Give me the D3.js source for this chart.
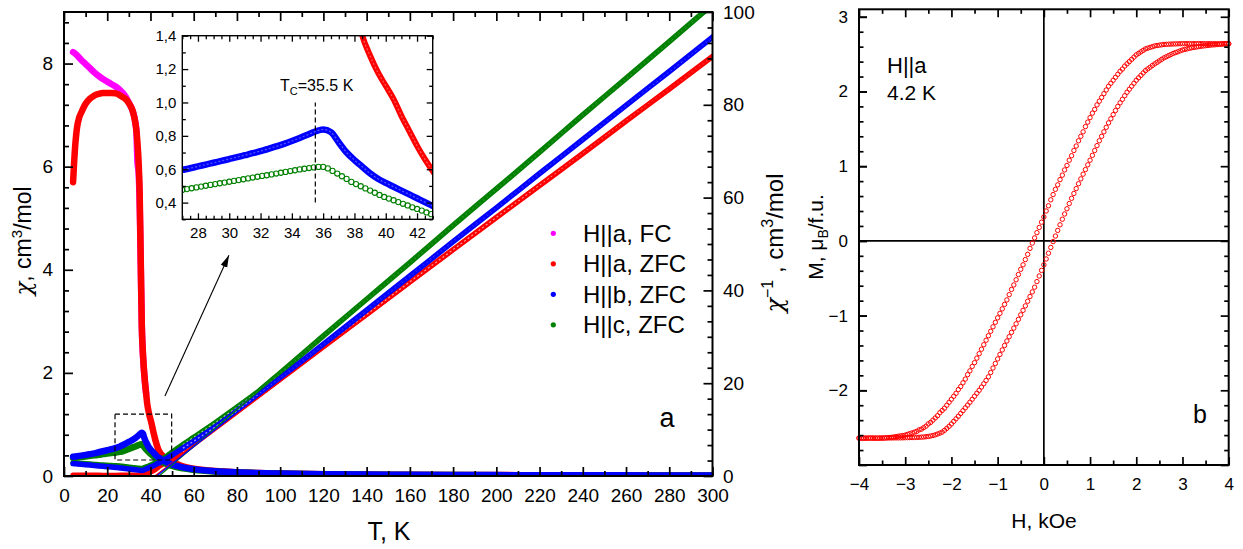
<!DOCTYPE html>
<html>
<head>
<meta charset="utf-8">
<title>Susceptibility and magnetization</title>
<script src="https://cdn.jsdelivr.net/npm/d3@7/dist/d3.min.js"></script>
<style>
  html, body { margin: 0; padding: 0; background: #fff; }
  svg { display: block; font-family: "Liberation Sans", Arial, Helvetica, sans-serif; }
</style>
</head>
<body>
<svg id="fig" width="1243" height="549"></svg>
<script>
// ---------------- panel (a): chi(T) and 1/chi(T) ----------------
// H||a, field cooled
const tempFC = [4.2,5,6,8,10,12,14,16,18,20,22,24,26,28,29,30,31,32,33,33.5,34,34.5,35,35.5,36,37,38];
const chiFC  = [8.22,8.20,8.16,8.07,7.99,7.91,7.83,7.76,7.70,7.65,7.60,7.55,7.48,7.39,7.32,7.24,7.16,7.05,6.86,6.68,6.08,5.90,5.30,4.10,2.90,2.05,1.60];

// H||a, zero-field cooled
const tempA = [4.2,5,6,7,8,10,12,14,16,18,20,22,24,26,27,28,29,30,31,32,33,33.5,34,34.5,35,35.5,36,36.5,37,37.5,38,38.5,39,39.5,40,40.5,41,41.5,42,42.5,43,44,45,46,48,50,55,60,70,80,90,100,120,140,160,180,200,220,240,260,280,300];
const chiA  = [5.70,6.30,6.75,6.95,7.05,7.22,7.32,7.38,7.41,7.43,7.43,7.43,7.42,7.38,7.35,7.33,7.29,7.23,7.16,7.05,6.85,6.70,6.45,6.10,5.50,4.20,2.90,2.40,2.05,1.80,1.60,1.40,1.28,1.18,1.10,1.02,0.92,0.83,0.74,0.66,0.59,0.48,0.42,0.38,0.32,0.28,0.1887,0.1414,0.0952,0.0714,0.0571,0.0477,0.0358,0.0287,0.0239,0.0205,0.01795,0.01597,0.01439,0.01307,0.01199,0.01106];

// H||b, zero-field cooled
const tempB = [4.2,5,6,8,10,12,14,16,18,20,22,24,26,27,27.5,28,28.5,29,29.5,30,30.5,31,31.5,32,32.5,33,33.5,34,34.5,35,35.5,36,36.5,37,37.5,38,38.5,39,39.5,40,40.5,41,41.5,42,42.5,43,44,45,46,48,50,55,60,70,80,90,100,120,140,160,180,200,220,240,260,280,300];
const chiB  = [0.375,0.378,0.383,0.395,0.41,0.425,0.44,0.46,0.48,0.50,0.52,0.545,0.575,0.596,0.606,0.617,0.628,0.639,0.650,0.661,0.672,0.684,0.696,0.709,0.722,0.737,0.752,0.769,0.787,0.806,0.826,0.838,0.822,0.760,0.700,0.655,0.615,0.575,0.543,0.518,0.495,0.472,0.449,0.426,0.403,0.380,0.357,0.323,0.299,0.256,0.222,0.1667,0.1333,0.0943,0.0714,0.0571,0.0475,0.0352,0.02797,0.0232,0.0198,0.0173,0.01534,0.01379,0.01252,0.01147,0.01057];

// H||c, zero-field cooled
const tempC = [4.2,5,6,8,10,12,14,16,18,20,22,24,26,
  27,27.3,27.6,27.9,28.2,28.5,28.8,29.1,29.4,29.7,30,30.3,30.6,30.9,31.2,31.5,31.8,32.1,32.4,32.7,
  33,33.3,33.6,33.9,34.2,34.5,34.8,35.1,35.4,35.7,36,36.3,36.6,36.9,37.2,37.5,37.8,38.1,38.4,38.7,
  39,39.3,39.6,39.9,40.2,40.5,40.8,41.1,41.4,41.7,42,42.3,42.6,42.9,43.2,
  45,46,48,50,55,60,70,80,90,100,120,140,160,180,200,220,240,260,280,300];
const chiC  = [0.35,0.355,0.36,0.37,0.38,0.39,0.40,0.41,0.425,0.435,0.445,0.455,0.468,
  0.476,0.481,0.486,0.491,0.496,0.501,0.506,0.511,0.516,0.520,0.525,0.530,0.535,0.540,0.545,0.550,0.555,0.560,0.564,0.569,
  0.574,0.579,0.584,0.589,0.594,0.599,0.603,0.607,0.611,0.614,0.614,0.605,0.590,0.574,0.558,0.542,0.524,0.511,0.498,0.485,
  0.472,0.459,0.446,0.434,0.424,0.414,0.403,0.393,0.383,0.372,0.362,0.352,0.341,0.331,0.321,
  0.278,0.2597,0.2252,0.1949,0.1479,0.1200,0.0870,0.06757,0.05479,0.04505,0.03311,0.02625,0.02174,0.01852,0.01616,0.01433,0.01285,0.01167,0.01068,0.00984];

// Curie-Weiss lines for 1/chi, given by their two end points [T, 1/chi]
const fitA = [[42.0, 0], [300, 90.4]];
const fitB = [[42.8, 0], [300, 94.6]];
const fitC = [[44.0, 0], [300, 101.6]];

const legendLabels = ["H||a, FC", "H||a, ZFC", "H||b, ZFC", "H||c, ZFC"];
const tTicks = [0,20,40,60,80,100,120,140,160,180,200,220,240,260,280,300];
const chiTicks = [0,2,4,6,8];
const invTicks = [0,20,40,60,80,100];
const insetTTicks = [28,30,32,34,36,38,40,42];
const insetChiTicks = [0.4,0.6,0.8,1.0,1.2,1.4];
const tcValue = 35.5;

// ---------------- panel (b): M(H) loop at 4.2 K ----------------
const fieldDown = d3.range(161).map(i => +(4 - 0.05 * i).toFixed(2));
const momentDown = [
  2.640,2.640,2.641,2.640,2.640,2.639,2.640,2.641,2.640,2.640,2.639,2.640,2.640,2.641,2.640,2.640,2.639,2.640,2.640,2.640,2.640,
  2.639,2.638,2.637,2.636,2.634,2.633,2.631,2.630,
  2.625,2.620,2.615,2.610,2.600,2.590,2.580,2.570,2.550,2.530,2.510,2.490,
  2.460,2.430,2.400,2.370,2.340,2.300,2.270,2.230,2.190,2.150,2.110,2.070,2.020,1.970,1.920,1.870,1.820,1.760,1.710,1.650,
  1.590,1.530,1.460,1.400,1.340,1.270,1.210,1.140,1.080,1.010,0.950,0.880,0.820,0.750,0.690,0.620,0.550,0.470,0.400,0.320,
  0.250,0.180,0.110,0.040,-0.030,-0.100,-0.180,-0.250,-0.320,-0.380,-0.450,-0.520,-0.590,-0.650,-0.720,-0.790,-0.850,-0.910,-0.970,-1.030,
  -1.090,-1.150,-1.210,-1.270,-1.330,-1.390,-1.450,-1.510,-1.570,-1.630,-1.680,-1.740,-1.790,-1.850,-1.900,-1.950,-1.990,-2.040,-2.080,-2.120,
  -2.160,-2.200,-2.240,-2.270,-2.300,-2.340,-2.370,-2.400,-2.430,-2.450,-2.480,-2.500,-2.520,-2.530,-2.550,-2.560,-2.570,-2.580,-2.590,-2.600,
  -2.605,-2.610,-2.615,-2.620,-2.625,-2.630,-2.632,-2.635,-2.638,-2.640,
  -2.640,-2.641,-2.640,-2.640,-2.639,-2.640,-2.641,-2.640,-2.640,-2.640];
const fieldUp = d3.range(161).map(i => +(-4 + 0.05 * i).toFixed(2));
const momentUp = [
  -2.640,-2.640,-2.641,-2.640,-2.640,-2.639,-2.640,-2.640,-2.640,-2.639,-2.639,-2.639,-2.638,-2.638,-2.638,-2.637,-2.637,-2.637,-2.636,-2.636,-2.635,
  -2.634,-2.633,-2.632,-2.631,-2.630,-2.629,-2.627,-2.625,
  -2.622,-2.618,-2.612,-2.605,-2.596,-2.585,-2.573,-2.560,-2.536,-2.510,-2.482,-2.450,
  -2.416,-2.382,-2.347,-2.310,-2.273,-2.235,-2.198,-2.160,-2.120,-2.080,-2.040,-2.000,-1.957,-1.913,-1.868,-1.820,-1.762,-1.702,-1.641,-1.580,
  -1.520,-1.460,-1.400,-1.340,-1.283,-1.225,-1.168,-1.110,-1.050,-0.990,-0.930,-0.870,-0.808,-0.745,-0.683,-0.620,-0.545,-0.470,-0.395,-0.320,
  -0.242,-0.165,-0.088,-0.010,0.065,0.140,0.215,0.290,0.360,0.430,0.500,0.570,0.635,0.700,0.765,0.830,0.893,0.955,1.018,1.080,
  1.145,1.210,1.275,1.340,1.400,1.460,1.520,1.580,1.635,1.690,1.745,1.800,1.848,1.895,1.943,1.990,2.030,2.070,2.110,2.150,
  2.183,2.215,2.248,2.280,2.303,2.325,2.348,2.370,2.390,2.410,2.430,2.450,2.465,2.480,2.495,2.510,2.521,2.532,2.544,2.555,
  2.563,2.570,2.578,2.585,2.590,2.595,2.600,2.605,2.609,2.613,2.616,2.620,2.623,2.625,2.628,2.630,2.633,2.635,2.638,2.640];
const hTicks = [-4,-3,-2,-1,0,1,2,3,4];
const mTicks = [-2,-1,0,1,2,3];

// ---------------- drawing ----------------
const COLORS = { fc: "#ff00ff", a: "#ff0000", b: "#0000ff", c: "#008000" };
const svg = d3.select("#fig");
svg.append("rect").attr("width", 1243).attr("height", 549).attr("fill", "#fff");

const zip = (ts, vs) => ts.map((t, i) => ({ t, v: vs[i] }));

function drawAxis(parent, orient, scale, pos, values, size, opts = {}) {
  const maker = { bottom: d3.axisBottom, top: d3.axisTop, left: d3.axisLeft, right: d3.axisRight }[orient];
  const gen = maker(scale).tickValues(values).tickSize(size)
    .tickPadding(opts.pad ?? 3).tickFormat(opts.fmt || (() => ""));
  const tr = (orient === "bottom" || orient === "top") ? `translate(0,${pos})` : `translate(${pos},0)`;
  const g = parent.append("g").attr("transform", tr).call(gen);
  g.select(".domain").remove();
  g.attr("font-family", null).attr("font-size", opts.fs || 19);
  g.selectAll(".tick line").attr("stroke", "#000").attr("stroke-width", opts.sw || 1.7);
  g.selectAll(".tick text").attr("fill", "#000");
  return g;
}

// ===== panel a =====
const A = { left: 64, right: 712.5, top: 12, bottom: 476 };
const x = d3.scaleLinear().domain([0, 300]).range([A.left, A.right]);
const yL = d3.scaleLinear().domain([0, 9]).range([A.bottom, A.top]);
const yR = d3.scaleLinear().domain([0, 100]).range([A.bottom, A.top]);

const defs = svg.append("defs");
defs.append("clipPath").attr("id", "clipA").append("rect")
  .attr("x", A.left).attr("y", A.top).attr("width", A.right - A.left).attr("height", A.bottom - A.top);

const lineChi = d3.line().x(d => x(d.t)).y(d => yL(d.v)).curve(d3.curveMonotoneX);
const lineInv = d3.line().x(d => x(d.t)).y(d => yR(1 / d.v)).curve(d3.curveMonotoneX);
const lineFit = d3.line().x(d => x(d[0])).y(d => yR(d[1]));

const plotA = svg.append("g").attr("clip-path", "url(#clipA)");
function band(path, color, w) {
  plotA.append("path").attr("d", path).attr("fill", "none").attr("stroke", color)
    .attr("stroke-width", w).attr("stroke-linecap", "round").attr("stroke-linejoin", "round");
}
// open-circle texture along the dense 1/chi bands
function speckle(path, opacity) {
  plotA.append("path").attr("d", path).attr("fill", "none").attr("stroke", "#fff")
    .attr("stroke-width", 1.3).attr("stroke-opacity", opacity).attr("stroke-dasharray", "2,2.5");
}

const sFC = zip(tempFC, chiFC), sA = zip(tempA, chiA), sB = zip(tempB, chiB), sC = zip(tempC, chiC);
const hiT = s => s.filter(d => d.t >= 55);
band(lineChi(sFC), COLORS.fc, 6.5);
band(lineChi(sA), COLORS.a, 6.5);
band(lineInv(sA), COLORS.a, 5.5);
speckle(lineInv(hiT(sA)), 0.6);
band(lineChi(sC), COLORS.c, 6.5);
band(lineInv(sC), COLORS.c, 5.5);
speckle(lineInv(hiT(sC)), 0.6);
band(lineChi(sB), COLORS.b, 6.5);
band(lineInv(sB), COLORS.b, 5.5);
speckle(lineInv(hiT(sB)), 0.6);
[[fitA, COLORS.a], [fitC, COLORS.c], [fitB, COLORS.b]].forEach(([f, c]) => {
  plotA.append("path").attr("d", lineFit(f)).attr("fill", "none").attr("stroke", c).attr("stroke-width", 1.3);
});

// frame and ticks
svg.append("rect").attr("x", A.left).attr("y", A.top).attr("width", A.right - A.left).attr("height", A.bottom - A.top)
  .attr("fill", "none").attr("stroke", "#000").attr("stroke-width", 2);
const tMinor = tTicks.slice(0, -1).map(t => t + 10);
drawAxis(svg, "bottom", x, A.bottom, tTicks, -9, { fmt: d3.format("d"), pad: 13 });
drawAxis(svg, "bottom", x, A.bottom, tMinor, -5);
drawAxis(svg, "top", x, A.top, tTicks, -9);
drawAxis(svg, "top", x, A.top, tMinor, -5);
const chiMinor = d3.range(1, 23).filter(k => k % 5 !== 0).map(k => +(k * 0.4).toFixed(1));
drawAxis(svg, "left", yL, A.left, chiTicks, -9, { fmt: d3.format("d"), pad: 11 });
drawAxis(svg, "left", yL, A.left, chiMinor, -5);
const invMinor = d3.range(1, 30).filter(k => k % 6 !== 0).map(k => k * 20 / 6);
drawAxis(svg, "right", yR, A.right, invTicks, -9, { fmt: d3.format("d"), pad: 10.5 });
drawAxis(svg, "right", yR, A.right, invMinor, -5);

// axis titles
svg.append("text").attr("x", 389).attr("y", 540).attr("text-anchor", "middle")
  .attr("font-size", 25).text("T, K");
const ylab = svg.append("text").attr("transform", "translate(31,241) rotate(-90)")
  .attr("text-anchor", "middle").attr("font-size", 23);
ylab.append("tspan").attr("font-family", "'DejaVu Serif', serif").attr("font-style", "italic").text("χ");
ylab.append("tspan").text(", cm");
ylab.append("tspan").attr("dy", -9).attr("font-size", 15).text("3");
ylab.append("tspan").attr("dy", 9).text("/mol");
const yrlab = svg.append("text").attr("transform", "translate(783,243) rotate(-90)")
  .attr("text-anchor", "middle").attr("font-size", 24);
yrlab.append("tspan").attr("font-family", "'DejaVu Serif', serif").attr("font-style", "italic").text("χ");
yrlab.append("tspan").attr("dy", -10).attr("font-size", 16).text("−1");
yrlab.append("tspan").attr("dy", 10).text(" , cm");
yrlab.append("tspan").attr("dy", -10).attr("font-size", 16).text("3");
yrlab.append("tspan").attr("dy", 10).text("/mol");

svg.append("text").attr("x", 667).attr("y", 427).attr("text-anchor", "middle")
  .attr("font-size", 27).text("a");

// legend
const legColors = [COLORS.fc, COLORS.a, COLORS.b, COLORS.c];
legendLabels.forEach((lab, i) => {
  const yy = 233.3 + i * 30.5;
  svg.append("circle").attr("cx", 553.3).attr("cy", yy).attr("r", 2.6).attr("fill", legColors[i]);
  svg.append("text").attr("x", 583).attr("y", yy).attr("dy", "0.36em").attr("font-size", 24).text(lab);
});

// zoom box and arrow
svg.append("rect").attr("x", x(23.6)).attr("y", yL(1.2))
  .attr("width", x(49.8) - x(23.6)).attr("height", yL(0.31) - yL(1.2))
  .attr("fill", "none").attr("stroke", "#000").attr("stroke-width", 1.2).attr("stroke-dasharray", "5,3");
defs.append("marker").attr("id", "arrowHead").attr("viewBox", "0 0 12 8")
  .attr("refX", 12).attr("refY", 4).attr("markerWidth", 12).attr("markerHeight", 8)
  .attr("markerUnits", "userSpaceOnUse").attr("orient", "auto")
  .append("path").attr("d", "M0,0.5 L12,4 L0,7.5 Z").attr("fill", "#000");
svg.append("line").attr("x1", x(46.7)).attr("y1", yL(1.55)).attr("x2", x(76.3)).attr("y2", yL(4.28))
  .attr("stroke", "#000").attr("stroke-width", 1.1).attr("marker-end", "url(#arrowHead)");

// ===== inset =====
const I = { left: 182.3, right: 432.7, top: 35.7, bottom: 219.3 };
const xi = d3.scaleLinear().domain([27, 43]).range([I.left, I.right]);
const yi = d3.scaleLinear().domain([0.3, 1.4]).range([I.bottom, I.top]);
svg.append("rect").attr("x", I.left).attr("y", I.top).attr("width", I.right - I.left).attr("height", I.bottom - I.top)
  .attr("fill", "#fff");
defs.append("clipPath").attr("id", "clipI").append("rect")
  .attr("x", I.left).attr("y", I.top).attr("width", I.right - I.left).attr("height", I.bottom - I.top);
const plotI = svg.append("g").attr("clip-path", "url(#clipI)");
const lineI = d3.line().x(d => xi(d.t)).y(d => yi(d.v)).curve(d3.curveMonotoneX);
plotI.append("path").attr("d", lineI(sA)).attr("fill", "none").attr("stroke", COLORS.a).attr("stroke-width", 6);
plotI.append("path").attr("d", lineI(sA)).attr("fill", "none").attr("stroke", "#fff")
  .attr("stroke-width", 1.2).attr("stroke-opacity", 0.35).attr("stroke-dasharray", "2,2");
plotI.append("path").attr("d", lineI(sB)).attr("fill", "none").attr("stroke", COLORS.b).attr("stroke-width", 6.5);
plotI.append("path").attr("d", lineI(sB)).attr("fill", "none").attr("stroke", "#fff")
  .attr("stroke-width", 1.2).attr("stroke-opacity", 0.35).attr("stroke-dasharray", "2,2");
plotI.selectAll("circle.c").data(sC.filter(d => d.t >= 26.5 && d.t <= 43.5)).join("circle")
  .attr("cx", d => xi(d.t)).attr("cy", d => yi(d.v)).attr("r", 2.6)
  .attr("fill", "none").attr("stroke", COLORS.c).attr("stroke-width", 1.1);
svg.append("line").attr("x1", xi(tcValue)).attr("x2", xi(tcValue)).attr("y1", yi(0.40)).attr("y2", yi(1.0))
  .attr("stroke", "#000").attr("stroke-width", 1.2).attr("stroke-dasharray", "5,3");
const tcLab = svg.append("text").attr("x", 280).attr("y", 90.5).attr("font-size", 16);
tcLab.append("tspan").text("T");
tcLab.append("tspan").attr("dy", 4).attr("font-size", 11).text("C");
tcLab.append("tspan").attr("dy", -4).text("=" + tcValue + " K");

svg.append("rect").attr("x", I.left).attr("y", I.top).attr("width", I.right - I.left).attr("height", I.bottom - I.top)
  .attr("fill", "none").attr("stroke", "#000").attr("stroke-width", 1.4);
const iTMinor = d3.range(0, 33).map(k => 27 + k * 0.5).filter(t => !insetTTicks.includes(t));
const iChiMinor = [0.3, 0.5, 0.7, 0.9, 1.1, 1.3];
const commaFmt = v => d3.format(".1f")(v).replace(".", ",");
drawAxis(svg, "bottom", xi, I.bottom, insetTTicks, -6, { fmt: d3.format("d"), pad: 8, fs: 15, sw: 1.3 });
drawAxis(svg, "bottom", xi, I.bottom, iTMinor, -3.5, { sw: 1.3 });
drawAxis(svg, "top", xi, I.top, insetTTicks, -6, { sw: 1.3 });
drawAxis(svg, "top", xi, I.top, iTMinor, -3.5, { sw: 1.3 });
drawAxis(svg, "left", yi, I.left, insetChiTicks, -6, { fmt: commaFmt, pad: 6, fs: 15, sw: 1.3 });
drawAxis(svg, "left", yi, I.left, iChiMinor, -3.5, { sw: 1.3 });
drawAxis(svg, "right", yi, I.right, insetChiTicks, -6, { sw: 1.3 });
drawAxis(svg, "right", yi, I.right, iChiMinor, -3.5, { sw: 1.3 });

// ===== panel b =====
const B = { left: 859, right: 1228.7, top: 9.3, bottom: 465 };
const xh = d3.scaleLinear().domain([-4, 4]).range([B.left, B.right]);
const ym = d3.scaleLinear().domain([-3, 3.1]).range([B.bottom, B.top]);

svg.append("line").attr("x1", xh(0)).attr("x2", xh(0)).attr("y1", B.top).attr("y2", B.bottom)
  .attr("stroke", "#000").attr("stroke-width", 1.7);
svg.append("line").attr("x1", B.left).attr("x2", B.right).attr("y1", ym(0)).attr("y2", ym(0))
  .attr("stroke", "#000").attr("stroke-width", 1.7);

const loop = fieldDown.map((h, i) => ({ h, m: momentDown[i] }))
  .concat(fieldUp.map((h, i) => ({ h, m: momentUp[i] })));
svg.append("g").selectAll("circle").data(loop).join("circle")
  .attr("cx", d => xh(d.h)).attr("cy", d => ym(d.m)).attr("r", 2.2)
  .attr("fill", "none").attr("stroke", "#ff0000").attr("stroke-width", 1.0);

svg.append("rect").attr("x", B.left).attr("y", B.top).attr("width", B.right - B.left).attr("height", B.bottom - B.top)
  .attr("fill", "none").attr("stroke", "#000").attr("stroke-width", 2);
const hMinor = hTicks.slice(0, -1).map(h => h + 0.5);
const mMajorAll = [-3, -2, -1, 0, 1, 2, 3];
const mMinor = d3.range(-14, 16).filter(k => k % 5 !== 0).map(k => +(k * 0.2).toFixed(1));
drawAxis(svg, "bottom", xh, B.bottom, hTicks, -8, { fmt: d3.format("d"), pad: 12.5, fs: 17 });
drawAxis(svg, "bottom", xh, B.bottom, hMinor, -4.5);
drawAxis(svg, "top", xh, B.top, hTicks, -8);
drawAxis(svg, "top", xh, B.top, hMinor, -4.5);
drawAxis(svg, "left", ym, B.left, mTicks, -8, { fmt: d3.format("d"), pad: 11, fs: 17 });
drawAxis(svg, "left", ym, B.left, mMajorAll, -8);
drawAxis(svg, "left", ym, B.left, mMinor, -4.5);
drawAxis(svg, "right", ym, B.right, mMajorAll, -8);
drawAxis(svg, "right", ym, B.right, mMinor, -4.5);

svg.append("text").attr("x", 1044).attr("y", 528).attr("text-anchor", "middle")
  .attr("font-size", 21).text("H, kOe");
const mlab = svg.append("text").attr("transform", "translate(823,237) rotate(-90)")
  .attr("text-anchor", "middle").attr("font-size", 21);
mlab.append("tspan").text("M, μ");
mlab.append("tspan").attr("dy", 5).attr("font-size", 14).text("B");
mlab.append("tspan").attr("dy", -5).text("/f.u.");
svg.append("text").attr("x", 887).attr("y", 73).attr("font-size", 22).text("H||a");
svg.append("text").attr("x", 887).attr("y", 100).attr("font-size", 21).text("4.2 K");
svg.append("text").attr("x", 1200).attr("y", 423).attr("text-anchor", "middle")
  .attr("font-size", 25).text("b");
</script>
</body>
</html>
